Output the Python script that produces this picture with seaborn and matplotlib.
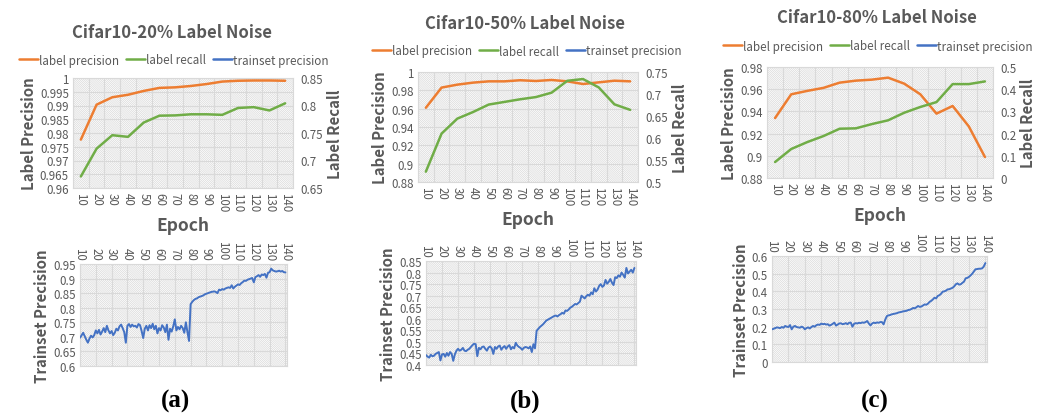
import numpy as np
import matplotlib
matplotlib.use("Agg")
import matplotlib.pyplot as plt
import seaborn as sns
from matplotlib.lines import Line2D
from matplotlib.patches import Rectangle
from matplotlib.ticker import FuncFormatter, FixedLocator

# ---------------- data ----------------
epochs_top = [10, 20, 30, 40, 50, 60, 70, 80, 90, 100, 110, 120, 130, 140]
tick_labels = [str(e) for e in epochs_top]

prec_20 = [0.9776, 0.9903, 0.9930, 0.9939, 0.9953, 0.9964, 0.9966, 0.9971,
           0.9978, 0.9987, 0.9990, 0.9991, 0.9991, 0.9990]
recall_20 = [0.671, 0.7215, 0.746, 0.743, 0.769, 0.7815, 0.782, 0.784,
             0.784, 0.783, 0.7955, 0.797, 0.791, 0.804]

prec_50 = [0.961, 0.983, 0.9862, 0.9884, 0.9898, 0.9898, 0.991, 0.9902,
           0.9913, 0.9898, 0.9869, 0.9887, 0.9905, 0.9898]
recall_50 = [0.5235, 0.610, 0.644, 0.659, 0.676, 0.682, 0.688, 0.693,
             0.703, 0.730, 0.734, 0.715, 0.6765, 0.664]

prec_80 = [0.934, 0.9554, 0.9585, 0.9612, 0.9659, 0.9677, 0.9686, 0.9704,
           0.9650, 0.9554, 0.938, 0.9449, 0.9265, 0.8989]
recall_80 = [0.072, 0.1306, 0.162, 0.189, 0.222, 0.2237, 0.243, 0.2598,
             0.294, 0.320, 0.342, 0.423, 0.423, 0.435]

epochs_all = list(range(10, 141))

train_20 = [
    0.697, 0.705, 0.714, 0.702, 0.690, 0.680, 0.694, 0.704, 0.698, 0.706,
    0.722, 0.712, 0.724, 0.708, 0.718, 0.730, 0.716, 0.738, 0.722, 0.712,
    0.720, 0.706, 0.714, 0.728, 0.722, 0.736, 0.742, 0.730, 0.716, 0.680,
    0.738, 0.744, 0.734, 0.742, 0.736, 0.738, 0.732, 0.744, 0.740, 0.720,
    0.696, 0.728, 0.738, 0.722, 0.740, 0.730, 0.745, 0.726, 0.738, 0.712,
    0.730, 0.722, 0.740, 0.732, 0.716, 0.742, 0.690, 0.728, 0.718, 0.736,
    0.760, 0.722, 0.734, 0.726, 0.738, 0.730, 0.714, 0.750, 0.716, 0.686,
    0.812, 0.820, 0.826, 0.830, 0.832, 0.836, 0.838, 0.840, 0.842, 0.846,
    0.848, 0.850, 0.852, 0.854, 0.855, 0.856, 0.854, 0.850, 0.862, 0.860,
    0.864, 0.862, 0.866, 0.868, 0.870, 0.868, 0.877, 0.866, 0.872, 0.876,
    0.880, 0.878, 0.884, 0.888, 0.893, 0.892, 0.896, 0.898, 0.900, 0.902,
    0.887, 0.905, 0.908, 0.912, 0.906, 0.914, 0.912, 0.916, 0.903, 0.920,
    0.922, 0.934, 0.928, 0.926, 0.924, 0.925, 0.927, 0.924, 0.926, 0.922, 0.921]

train_50 = [
    0.443, 0.436, 0.432, 0.444, 0.438, 0.440, 0.448, 0.452, 0.456, 0.420,
    0.446, 0.448, 0.436, 0.452, 0.440, 0.456, 0.448, 0.418, 0.446, 0.462,
    0.470, 0.462, 0.466, 0.474, 0.462, 0.460, 0.466, 0.470, 0.478, 0.486,
    0.492, 0.490, 0.438, 0.474, 0.468, 0.478, 0.480, 0.470, 0.462, 0.476,
    0.480, 0.472, 0.448, 0.478, 0.470, 0.480, 0.484, 0.466, 0.476, 0.482,
    0.470, 0.480, 0.486, 0.468, 0.478, 0.472, 0.496, 0.484, 0.478, 0.474,
    0.466, 0.474, 0.478, 0.476, 0.472, 0.480, 0.456, 0.490, 0.472, 0.548,
    0.556, 0.564, 0.570, 0.576, 0.584, 0.592, 0.596, 0.600, 0.604, 0.608,
    0.612, 0.614, 0.610, 0.616, 0.620, 0.626, 0.622, 0.636, 0.634, 0.640,
    0.648, 0.652, 0.658, 0.664, 0.662, 0.668, 0.674, 0.700, 0.694, 0.688,
    0.698, 0.704, 0.700, 0.714, 0.706, 0.732, 0.718, 0.726, 0.742, 0.750,
    0.738, 0.744, 0.768, 0.752, 0.760, 0.772, 0.756, 0.746, 0.780, 0.776,
    0.788, 0.782, 0.800, 0.790, 0.778, 0.820, 0.796, 0.804, 0.812, 0.800, 0.820]

train_80 = [
    0.185, 0.188, 0.192, 0.196, 0.194, 0.192, 0.198, 0.194, 0.204, 0.200,
    0.198, 0.209, 0.185, 0.200, 0.204, 0.198, 0.196, 0.194, 0.200, 0.196,
    0.185, 0.192, 0.196, 0.190, 0.198, 0.204, 0.200, 0.208, 0.212, 0.210,
    0.217, 0.214, 0.216, 0.212, 0.214, 0.206, 0.210, 0.216, 0.223, 0.206,
    0.212, 0.218, 0.219, 0.214, 0.216, 0.220, 0.214, 0.222, 0.223, 0.200,
    0.216, 0.220, 0.218, 0.222, 0.220, 0.224, 0.222, 0.226, 0.232, 0.218,
    0.207, 0.218, 0.223, 0.220, 0.224, 0.222, 0.226, 0.226, 0.213, 0.240,
    0.260, 0.264, 0.266, 0.270, 0.272, 0.274, 0.276, 0.280, 0.282, 0.284,
    0.287, 0.288, 0.290, 0.294, 0.296, 0.300, 0.306, 0.304, 0.310, 0.317,
    0.312, 0.314, 0.320, 0.326, 0.324, 0.330, 0.340, 0.346, 0.354, 0.364,
    0.360, 0.374, 0.378, 0.386, 0.398, 0.400, 0.404, 0.411, 0.412, 0.416,
    0.420, 0.428, 0.440, 0.445, 0.438, 0.440, 0.448, 0.455, 0.474, 0.476,
    0.482, 0.490, 0.500, 0.512, 0.525, 0.526, 0.528, 0.528, 0.530, 0.540, 0.560]

titles = ["Cifar10-20% Label Noise", "Cifar10-50% Label Noise", "Cifar10-80% Label Noise"]
panel_tags = ["(a)", "(b)", "(c)"]

# ---------------- style ----------------
sns.set_style("white")
plt.rcParams["font.family"] = ["Noto Sans CJK SC", "DejaVu Sans"]
plt.rcParams["hatch.linewidth"] = 0.5

ORANGE = "#ED7D31"
GREEN = "#70AD47"
BLUE = "#4472C4"
TXT = "#595959"
GRID = "#d9d9d9"
TICK_FS = 8.3
LAB_FS = 10.8

W, H = 1052, 414
fig = plt.figure(figsize=(W / 100, H / 100), dpi=100)


def rect(l, r, t, b):
    return [l / W, 1 - b / H, (r - l) / W, (b - t) / H]


def fmt(v, p):
    return f"{round(v, 4):g}"


def dress(ax):
    # Excel-like light diagonal pattern fill
    ax.add_patch(Rectangle((0, 0), 1, 1, transform=ax.transAxes, facecolor="white",
                           edgecolor="#d9d9d9", hatch="\\" * 16, lw=0, zorder=0))
    ax.set_axisbelow(True)
    for s in ax.spines.values():
        s.set_color(GRID)
        s.set_linewidth(0.8)
    ax.tick_params(length=0, colors=TXT, labelsize=TICK_FS, pad=3)


top_boxes = [(73, 293, 79, 189), (418, 638, 73, 183), (767, 993, 68, 179)]
bot_boxes = [(80, 287, 265, 367), (426, 636, 262, 366), (772, 987, 257, 363)]
title_pos = [(172, 33), (525, 24), (877, 18)]
legend_pos = [(174, 61), (527, 52), (878, 47)]
tag_pos = [(175, 401), (525, 401), (875, 401)]

left_lims = [(0.96, 1.0, 0.005), (0.88, 1.0, 0.02), (0.88, 0.98, 0.02)]
right_lims = [(0.65, 0.85, 0.05), (0.5, 0.75, 0.05), (0.0, 0.5, 0.1)]
bot_lims = [(0.6, 0.95, 0.05), (0.4, 0.85, 0.05), (0.0, 0.6, 0.1)]

precs = [prec_20, prec_50, prec_80]
recalls = [recall_20, recall_50, recall_80]
trains = [train_20, train_50, train_80]

handles = [Line2D([], [], color=ORANGE, lw=1.8),
           Line2D([], [], color=GREEN, lw=1.8),
           Line2D([], [], color=BLUE, lw=1.8)]
names = ["label precision", "label recall", "trainset precision"]

for i in range(3):
    # ---- top chart: precision + recall ----
    ax = fig.add_axes(rect(*top_boxes[i]))
    dress(ax)
    sns.lineplot(x=epochs_top, y=precs[i], ax=ax, color=ORANGE, lw=1.8, zorder=3)
    lo, hi, st = left_lims[i]
    ax.set_ylim(lo, hi)
    ax.yaxis.set_major_locator(FixedLocator(np.arange(lo, hi + st / 2, st)))
    ax.yaxis.set_major_formatter(FuncFormatter(fmt))
    ax.set_xlim(5, 145)
    ax.set_xticks(epochs_top)
    ax.set_xticklabels(tick_labels, rotation=-90)
    ax.set_xticks(np.arange(5, 150, 10), minor=True)
    ax.grid(True, which="minor", axis="x", color=GRID, lw=0.8)
    ax.grid(True, which="major", axis="y", color=GRID, lw=0.8)
    ax.tick_params(which="minor", length=0)
    ax.set_xlabel("Epoch", fontsize=12.5, fontweight="bold", color=TXT, labelpad=3)
    ax.set_ylabel("Label Precision", fontsize=LAB_FS, fontweight="bold", color=TXT, labelpad=2)

    ax2 = ax.twinx()
    sns.lineplot(x=epochs_top, y=recalls[i], ax=ax2, color=GREEN, lw=1.8, zorder=3)
    lo, hi, st = right_lims[i]
    ax2.set_ylim(lo, hi)
    ax2.yaxis.set_major_locator(FixedLocator(np.arange(lo, hi + st / 2, st)))
    ax2.yaxis.set_major_formatter(FuncFormatter(fmt))
    ax2.tick_params(length=0, colors=TXT, labelsize=TICK_FS, pad=5)
    for s in ax2.spines.values():
        s.set_visible(False)
    ax2.set_ylabel("Label Recall", fontsize=LAB_FS, fontweight="bold", color=TXT, labelpad=3)
    ax2.set_xlim(5, 145)

    fig.text(title_pos[i][0] / W, 1 - title_pos[i][1] / H, titles[i], ha="center",
             va="center", fontsize=12, fontweight="bold", color=TXT)
    fig.legend(handles, names, loc="center", ncol=3, frameon=False,
               bbox_to_anchor=(legend_pos[i][0] / W, 1 - legend_pos[i][1] / H),
               fontsize=8.4, labelcolor=TXT, handlelength=1.6, handletextpad=0.1,
               columnspacing=0.6)

    # ---- bottom chart: trainset precision ----
    bx = fig.add_axes(rect(*bot_boxes[i]))
    dress(bx)
    sns.lineplot(x=epochs_all, y=trains[i], ax=bx, color=BLUE, lw=1.4, zorder=3)
    lo, hi, st = bot_lims[i]
    bx.set_ylim(lo, hi)
    bx.yaxis.set_major_locator(FixedLocator(np.arange(lo, hi + st / 2, st)))
    bx.yaxis.set_major_formatter(FuncFormatter(fmt))
    bx.set_xlim(10, 141)
    bx.set_xticks(epochs_top)
    bx.set_xticklabels(tick_labels, rotation=-90)
    bx.xaxis.tick_top()
    bx.grid(True, color=GRID, lw=0.8)
    bx.set_ylabel("Trainset Precision", fontsize=LAB_FS, fontweight="bold", color=TXT, labelpad=2)

    fig.text(tag_pos[i][0] / W, 1 - tag_pos[i][1] / H, panel_tags[i], ha="center",
             va="center", fontsize=18, fontweight="bold", color="black",
             family=["Liberation Serif", "DejaVu Serif"])

fig.savefig("out.png", dpi=100)
